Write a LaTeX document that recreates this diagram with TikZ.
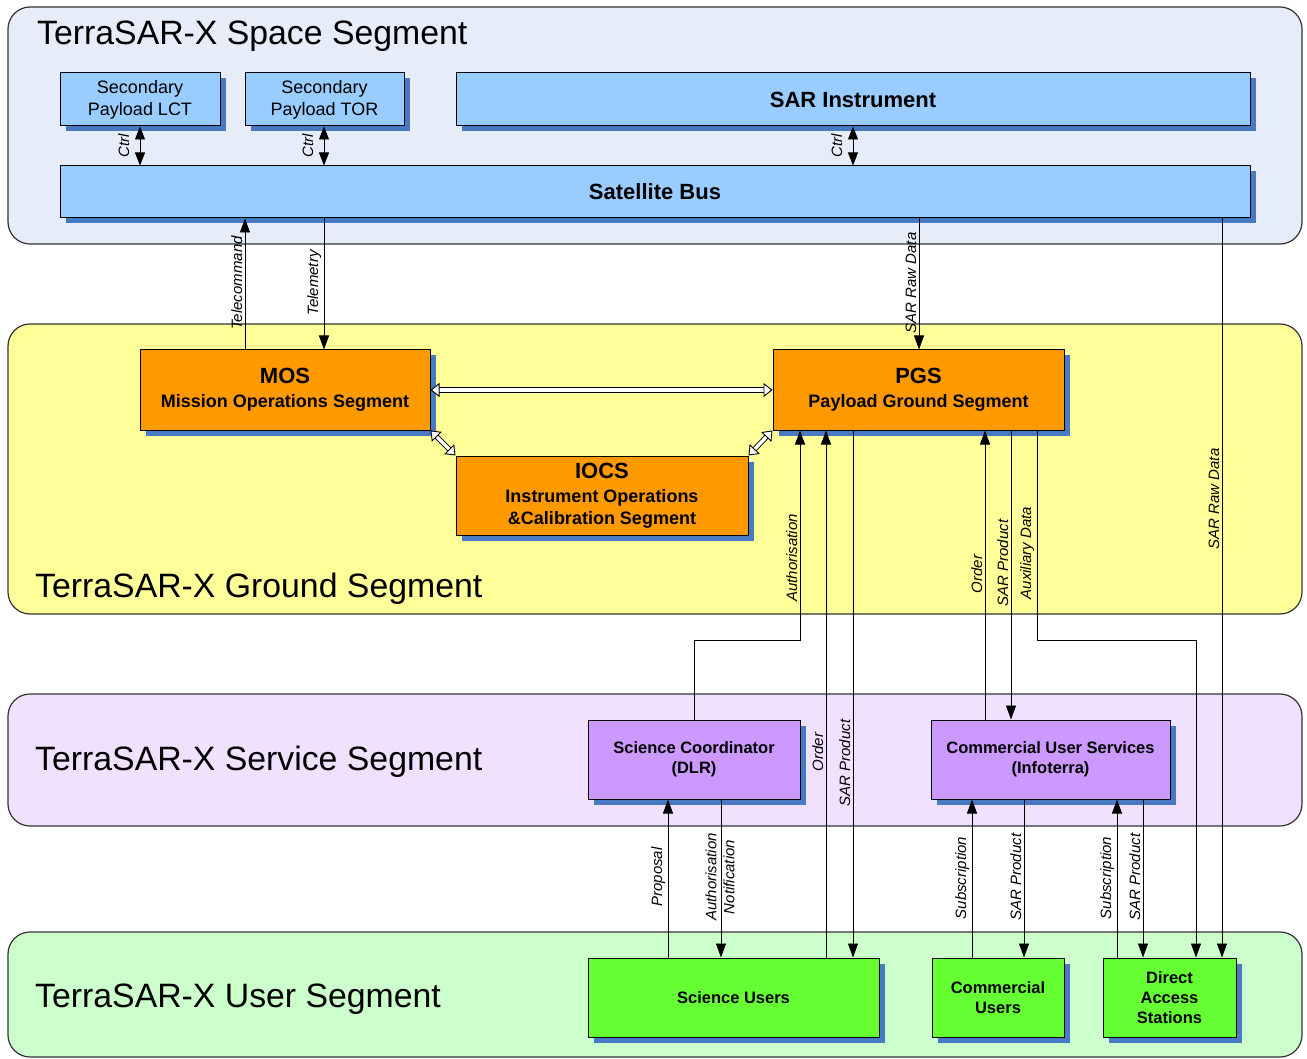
\documentclass[tikz,border=0pt]{standalone}
\usepackage{fontspec}
\setmainfont{Liberation Sans}
\usetikzlibrary{arrows.meta,shadows}
\definecolor{spacebg}{RGB}{230,236,248}
\definecolor{groundbg}{RGB}{255,255,153}
\definecolor{servbg}{RGB}{240,225,255}
\definecolor{userbg}{RGB}{204,255,204}
\definecolor{bluebox}{RGB}{153,204,255}
\definecolor{orangebox}{RGB}{255,153,0}
\definecolor{purplebox}{RGB}{204,153,255}
\definecolor{greenbox}{RGB}{102,255,51}
\definecolor{shblue}{RGB}{72,122,196}
\newcommand{\setfs}[2]{\fontsize{#1}{#2}\selectfont}
\begin{document}
\begin{tikzpicture}[x=1pt,y=-1pt,
  seg/.style={draw=black!80, line width=1.2pt, rounded corners=22pt, inner sep=0pt},
  segtitle/.style={anchor=base west, inner sep=0pt, font=\setfs{33.8}{38}},
  box/.style={draw=black, line width=1pt, inner sep=2pt, align=center,
    drop shadow={shadow xshift=5.5pt, shadow yshift=-5.5pt, fill=shblue, draw=none, opacity=1}},
  arr/.style={line width=0.9pt, -{Triangle[length=14pt,width=10pt]}},
  dbl/.style={line width=0.9pt, {Triangle[length=13pt,width=10pt]}-{Triangle[length=13pt,width=10pt]}},
  hollow/.style={double=white, double distance=3.4pt, line width=0.9pt,
    {Triangle[length=9pt,width=14pt,fill=white]}-{Triangle[length=9pt,width=14pt,fill=white]}},
  lbl/.style={font=\itshape\setfs{15}{18}, rotate=90, inner sep=1.5pt, anchor=south},
]
\useasboundingbox (0,0) rectangle (1307,1059);
% segments
\node[seg, fill=spacebg, minimum width=1294, minimum height=237] (space) at (655,125.5) {};
\node[seg, fill=groundbg, minimum width=1294, minimum height=290] (ground) at (655,469) {};
\node[seg, fill=servbg, minimum width=1294, minimum height=132] (service) at (655,760) {};
\node[seg, fill=userbg, minimum width=1294, minimum height=125] (user) at (655,994.5) {};
\node[segtitle] (spacet) at (37,45) {TerraSAR-X Space Segment};
\node[segtitle] (groundt) at (35,597) {TerraSAR-X Ground Segment};
\node[segtitle] (servicet) at (35,770) {TerraSAR-X Service Segment};
\node[segtitle] (usert) at (35,1007) {TerraSAR-X User Segment};
% space boxes
\node[box, fill=bluebox, minimum width=160, minimum height=53, font=\setfs{18}{22}] (lct) at (140,99.5) {Secondary\\Payload LCT};
\node[box, fill=bluebox, minimum width=159, minimum height=53, font=\setfs{18}{22}] (tor) at (324.5,99.5) {Secondary\\Payload TOR};
\node[box, fill=bluebox, minimum width=794, minimum height=53, font=\bfseries\setfs{22}{25}] (sar) at (853,99.5) {SAR Instrument};
\node[box, fill=bluebox, minimum width=1190, minimum height=52, font=\bfseries\setfs{22}{25}] (bus) at (655,192) {Satellite Bus};
% ground boxes
\node[box, fill=orangebox, minimum width=290, minimum height=80, font=\bfseries\setfs{18}{22}] (mos) at (285,390) {{\setfs{22}{24}MOS}\\[2pt]Mission Operations Segment};
\node[box, fill=orangebox, minimum width=291, minimum height=80, font=\bfseries\setfs{18}{22}] (pgs) at (918.5,390) {{\setfs{22}{24}PGS}\\[2pt]Payload Ground Segment};
\node[box, fill=orangebox, minimum width=292, minimum height=79, font=\bfseries\setfs{18}{22}] (iocs) at (602,495.5) {{\setfs{22}{24}IOCS}\\[2pt]Instrument Operations\\\&Calibration Segment};
% service boxes
\node[box, fill=purplebox, minimum width=212, minimum height=79, font=\bfseries\setfs{16.5}{20}] (sc) at (694,759.5) {Science Coordinator\\(DLR)};
\node[box, fill=purplebox, minimum width=239, minimum height=79, font=\bfseries\setfs{16.5}{20}] (cus) at (1050.5,759.5) {Commercial User Services\\(Infoterra)};
% user boxes
\node[box, fill=greenbox, minimum width=291, minimum height=79, font=\bfseries\setfs{16.5}{20}] (su) at (733.5,997.5) {Science Users};
\node[box, fill=greenbox, minimum width=132, minimum height=79, font=\bfseries\setfs{16.5}{20}] (cu) at (998,997.5) {Commercial\\Users};
\node[box, fill=greenbox, minimum width=133, minimum height=79, font=\bfseries\setfs{16.5}{20}] (das) at (1169.5,997.5) {Direct\\Access\\Stations};
% bend points
\coordinate (authbend) at (800,640);
\coordinate (auxbend) at (1196,640);
% space connectors
\draw[dbl] (140,0 |- lct.south) -- (140,0 |- bus.north);
\node[lbl] (l1) at (131,146) {Ctrl};
\draw[dbl] (324,0 |- tor.south) -- (324,0 |- bus.north);
\node[lbl] (l2) at (315,146) {Ctrl};
\draw[dbl] (853,0 |- sar.south) -- (853,0 |- bus.north);
\node[lbl] (l3) at (844,146) {Ctrl};
% space-ground
\draw[arr] (245,0 |- mos.north) -- (245,0 |- bus.south);
\node[lbl] (l4) at (244,283) {Telecommand};
\draw[arr] (324,0 |- bus.south) -- (324,0 |- mos.north);
\node[lbl] (l5) at (323,283) {Telemetry};
\draw[arr] (919,0 |- bus.south) -- (919,0 |- pgs.north);
\node[lbl] (l6) at (918,283) {SAR Raw Data};
\draw[arr] (1222,0 |- bus.south) -- (1222,0 |- das.north);
\node[lbl] (l7) at (1221,499) {SAR Raw Data};
% ground internal
\draw[hollow] (mos.east) -- (pgs.west);
\draw[hollow] (mos.south east) -- (iocs.north west);
\draw[hollow] (pgs.south west) -- (iocs.north east);
% ground-service
\draw[arr] (sc.north) |- (authbend) -- (800,0 |- pgs.south);
\node[lbl] (l8) at (799,558) {Authorisation};
\draw[arr] (826,0 |- su.north) -- (826,0 |- pgs.south);
\node[lbl] (l9) at (825,752) {Order};
\draw[arr] (853,0 |- pgs.south) -- (853,0 |- su.north);
\node[lbl] (l10) at (852,763) {SAR Product};
\draw[arr] (985,0 |- cus.north) -- (985,0 |- pgs.south);
\node[lbl] (l11) at (984,574) {Order};
\draw[arr] (1011,0 |- pgs.south) -- (1011,0 |- cus.north);
\node[lbl] (l12) at (1010,563) {SAR Product};
\draw[arr] (1037,0 |- pgs.south) |- (auxbend) -- (1196,0 |- das.north);
\node[lbl] (l13) at (1036,553) {Auxiliary Data};
% service-user
\draw[arr] (668,0 |- su.north) -- (668,0 |- sc.south);
\node[lbl] (l14) at (667,877) {Proposal};
\draw[arr] (721,0 |- sc.south) -- (721,0 |- su.north);
\node[lbl, anchor=center, align=center] (l15) at (720,877) {Authorisation\\Notification};
\draw[arr] (972,0 |- cu.north) -- (972,0 |- cus.south);
\node[lbl] (l16) at (971,878) {Subscription};
\draw[arr] (1024,0 |- cus.south) -- (1024,0 |- cu.north);
\node[lbl] (l17) at (1023,877) {SAR Product};
\draw[arr] (1117,0 |- das.north) -- (1117,0 |- cus.south);
\node[lbl] (l18) at (1116,878) {Subscription};
\draw[arr] (1143,0 |- cus.south) -- (1143,0 |- das.north);
\node[lbl] (l19) at (1142,877) {SAR Product};
\end{tikzpicture}
\end{document}
